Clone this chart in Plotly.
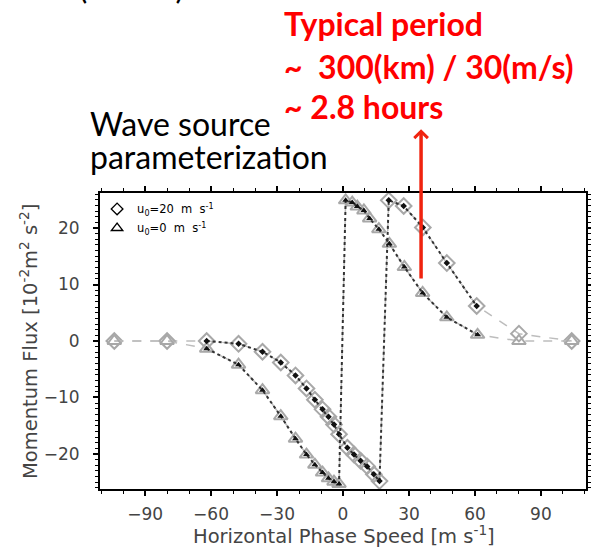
import plotly.graph_objects as go

# ---- data ----
c_u20 = [-104, -80, -62, -47.5, -36.6, -28.3, -21.6, -16.6, -12.8, -9.3, -6.6, -4.1, -1.8,
         2, 5, 8, 11, 14, 16.6, 20.8, 27.6, 36.3, 47.2, 60.8, 80, 104]
f_u20 = [0, 0, 0, -0.5, -1.9, -3.8, -6.1, -8.4, -10.4, -12.1, -13.4, -14.8, -16.5,
         -18.9, -20.1, -21.2, -22.2, -23.6, -24.8, 24.9, 23.9, 20.1, 13.8, 6.2, 1.3, 0]

c_u0 = [-104, -80, -62, -47.5, -36.6, -28.3, -21.6, -16.6, -12.8, -9.3, -6.6, -4.1, -1.8,
        1.2, 4.2, 6.5, 9.5, 12.1, 16.3, 21.1, 27.9, 36.2, 47.2, 61.2, 80, 104]
f_u0 = [0, 0, -1.35, -4.2, -8.7, -13.3, -17.3, -20.1, -21.9, -23.3, -24.3, -24.9, -25.3,
        24.9, 24.5, 23.8, 23.1, 21.7, 19.8, 17.2, 13.1, 8.5, 4.2, 1.1, 0, 0]

# indices of the inner (black) segment
inner_lo, inner_hi = 2, 24

x_ticks = [-90, -60, -30, 0, 30, 60, 90]
y_ticks = [-20, -10, 0, 10, 20]

legend_u20 = "u<sub>0</sub>=20  m  s<sup>-1</sup>"
legend_u0 = "u<sub>0</sub>=0  m  s<sup>-1</sup>"

arrow_c = 35.5
arrow_tail_f = 10.8
arrow_head_f = 37.5

GREY = "#a8a8a8"
GREYL = "#bdbdbd"
AXC = "#444444"

fig = go.Figure()

for cx, fy, sym in [(c_u20, f_u20, "diamond-open"), (c_u0, f_u0, "triangle-up-open")]:
    fig.add_trace(go.Scatter(
        x=cx, y=fy, mode="lines+markers", showlegend=False, cliponaxis=False,
        line=dict(color=GREYL, width=1.5, dash="dash"),
        marker=dict(symbol=sym, size=12, color=GREY, line=dict(width=2, color=GREY)),
    ))

for cx, fy, sym, sz in [(c_u20, f_u20, "diamond", 5), (c_u0, f_u0, "triangle-up", 6)]:
    fig.add_trace(go.Scatter(
        x=cx[inner_lo:inner_hi], y=fy[inner_lo:inner_hi], mode="lines+markers",
        showlegend=False, cliponaxis=False,
        line=dict(color="#333333", width=2, dash="dot"),
        marker=dict(symbol=sym, size=sz, color="#111111"),
    ))

# legend entries
fig.add_trace(go.Scatter(x=[None], y=[None], mode="markers", name=legend_u20,
                         marker=dict(symbol="diamond-open", size=9, color="black",
                                     line=dict(width=1.3, color="black"))))
fig.add_trace(go.Scatter(x=[None], y=[None], mode="markers", name=legend_u0,
                         marker=dict(symbol="triangle-up-open", size=10, color="black",
                                     line=dict(width=1.3, color="black"))))

axis_common = dict(
    showline=True, linecolor="black", linewidth=2, mirror="ticks",
    ticks="outside", ticklen=5, tickwidth=1.5, tickcolor="black",
    showgrid=False, zeroline=False, automargin=False,
    tickfont=dict(family="DejaVu Sans", size=17, color=AXC),
)

fig.update_xaxes(
    range=[-110.5, 110.5], tickvals=x_ticks, **axis_common, ticklabelstandoff=4,
    minor=dict(dtick=10, tick0=0, ticklen=3, ticks="outside", tickcolor="black", tickwidth=1),
)
fig.update_yaxes(
    range=[-26.2, 26.2], tickvals=y_ticks, **axis_common, ticklabelstandoff=10,
    minor=dict(dtick=1, tick0=0, ticklen=3, ticks="outside", tickcolor="black", tickwidth=1),
)

L, T, B = 100, 193, 489

def py2paper(py):
    return (B - py) / float(B - T)

def px2paper(px):
    return (px - L) / 486.0

red_font = dict(family="Lato", size=32, color="#ff0000")
blk_font = dict(family="Lato", size=32, color="black")
ax_font = dict(family="DejaVu Sans", size=19.5, color=AXC)

ann = [
    dict(text="<b>Typical period</b>", x=px2paper(282), y=py2paper(23), font=red_font),
    dict(text="<b>~  300(km) / 30(m/s)</b>", x=px2paper(282), y=py2paper(66), font=red_font),
    dict(text="<b>~ 2.8 hours</b>", x=px2paper(282), y=py2paper(106), font=red_font),
    dict(text="Wave source", x=px2paper(88), y=py2paper(123), font=blk_font),
    dict(text="parameterization", x=px2paper(88), y=py2paper(157), font=blk_font),
    dict(text="Convective source (CGWs)", x=px2paper(186), y=py2paper(-14),
         font=blk_font, xanchor="right"),
    dict(text="Horizontal Phase Speed [m s<sup>-1</sup>]", x=px2paper(344), y=py2paper(535),
         font=ax_font, xanchor="center"),
    dict(text="Momentum Flux [10<sup>-2</sup>m<sup>2</sup> s<sup>-2</sup>]", x=px2paper(29),
         y=py2paper(342), font=ax_font, xanchor="center", textangle=-90),
]
for a in ann:
    a.setdefault("xanchor", "left")
    fig.add_annotation(xref="paper", yref="paper", yanchor="middle", showarrow=False, **a)

fig.add_annotation(
    x=arrow_c, y=arrow_head_f, ax=arrow_c, ay=arrow_tail_f,
    xref="x", yref="y", axref="x", ayref="y", text="",
    showarrow=True, arrowhead=4, arrowsize=0.75, arrowwidth=3.5, arrowcolor="#f0230f",
)

fig.update_layout(
    width=591, height=549,
    margin=dict(l=L, r=591 - L - 486, t=T, b=549 - B, autoexpand=False),
    paper_bgcolor="white", plot_bgcolor="white",
    showlegend=True,
    legend=dict(x=-0.006, y=0.995, xanchor="left", yanchor="top",
                bgcolor="rgba(0,0,0,0)", font=dict(family="DejaVu Sans", size=11.5, color="black"),
                itemwidth=30, tracegroupgap=0),
)

fig.write_html("out.html", config={"displayModeBar": False},
               post_script="document.body.style.margin='0px';")
